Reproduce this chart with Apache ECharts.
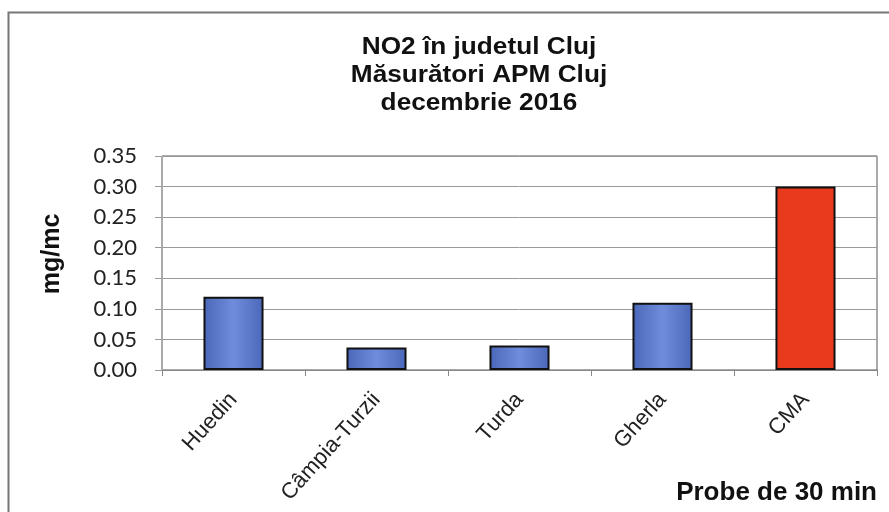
<!DOCTYPE html>
<html>
<head>
<meta charset="utf-8">
<script src="https://cdn.jsdelivr.net/npm/echarts@6/dist/echarts.min.js"></script>
<style>
  html, body { margin: 0; padding: 0; background: #fff; }
  #chart { width: 889px; height: 512px; }
</style>
</head>
<body>
<div id="chart"></div>
<script>
const categories = ['Huedin', 'Câmpia-Turzii', 'Turda', 'Gherla', 'CMA']
const no2Values = [0.12, 0.037, 0.04, 0.11, 0.30]
const barColors = ['blue', 'blue', 'blue', 'blue', 'red']
const titleLines = ['NO2 în judetul Cluj', 'Măsurători APM Cluj', 'decembrie 2016']

const blueFill = new echarts.graphic.LinearGradient(0, 0, 1, 0, [
  { offset: 0, color: '#4a66b8' },
  { offset: 0.5, color: '#6f8ddc' },
  { offset: 1, color: '#4a66b8' },
])
const redFill = '#ea3a1e'
const boldFont = 'Liberation Sans, Arial, sans-serif'

// the scanned title is a bit wider than a plain Arial bold, so stretch it
const titleTexts = titleLines.map((line, i) => ({
  type: 'text',
  x: 479,
  y: 48 + i * 28,
  scaleX: 1.14,
  silent: true,
  style: {
    text: line,
    font: 'bold 23px ' + boldFont,
    fill: '#111',
    align: 'center',
    verticalAlign: 'middle',
  },
}))

const chart = echarts.init(document.getElementById('chart'))
chart.setOption({
  animation: false,
  grid: {
    left: 162,
    right: 12,
    top: 156,
    bottom: 142,
    show: true,
    borderColor: '#555',
    borderWidth: 1,
  },
  xAxis: {
    type: 'category',
    data: categories,
    axisLine: { lineStyle: { color: '#888' } },
    axisTick: { show: true, length: 6, lineStyle: { color: '#888' } },
    axisLabel: {
      rotate: 48,
      margin: 26,
      fontFamily: boldFont,
      fontSize: 22,
      color: '#222',
    },
  },
  yAxis: {
    type: 'value',
    min: 0,
    max: 0.35,
    interval: 0.05,
    axisLine: { show: true, lineStyle: { color: '#aaa' } },
    axisTick: { show: true, length: 7, lineStyle: { color: '#999' } },
    splitLine: { lineStyle: { color: '#9a9a9a', width: 1 } },
    axisLabel: {
      formatter: v => v.toFixed(2),
      margin: 25,
      fontFamily: 'Lato, Open Sans, sans-serif',
      fontSize: 22,
      color: '#222',
    },
  },
  series: [
    {
      type: 'bar',
      barWidth: '42%',
      data: no2Values.map((v, i) => ({
        value: v,
        itemStyle: {
          color: barColors[i] === 'red' ? redFill : blueFill,
          borderColor: '#111',
          borderWidth: 2,
        },
      })),
    },
  ],
  graphic: [
    {
      type: 'rect',
      shape: { x: 8.5, y: 12.5, width: 900, height: 520 },
      style: { fill: 'none', stroke: '#777', lineWidth: 2 },
      silent: true,
    },
    ...titleTexts,
    {
      type: 'text',
      x: 52,
      y: 254,
      rotation: Math.PI / 2,
      silent: true,
      style: {
        text: 'mg/mc',
        font: 'bold 25px ' + boldFont,
        fill: '#111',
        align: 'center',
        verticalAlign: 'middle',
      },
    },
    {
      type: 'text',
      x: 877,
      y: 493,
      silent: true,
      style: {
        text: 'Probe de 30 min',
        font: 'bold 26px ' + boldFont,
        fill: '#111',
        align: 'right',
        verticalAlign: 'middle',
      },
    },
  ],
})
</script>
</body>
</html>
